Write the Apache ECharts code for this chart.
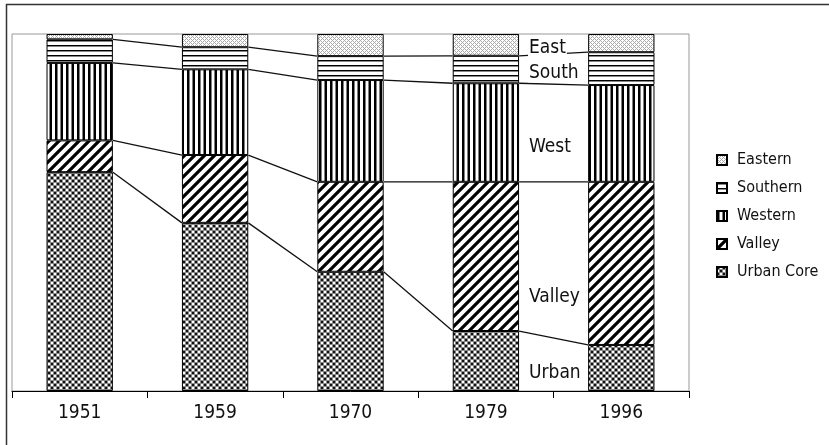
<!DOCTYPE html>
<html lang="en">
<head>
<meta charset="UTF-8">
<title>Population share by area</title>
<script src="https://cdn.jsdelivr.net/npm/echarts@6/dist/echarts.min.js"></script>
<style>
  html, body { margin: 0; padding: 0; background: #fff; }
  #main { width: 829px; height: 445px; }
</style>
</head>
<body>
<div id="main"></div>
<script>
// share of population (%) per census year, stacked bottom-up
const years = ['1951', '1959', '1970', '1979', '1996'];
const urbanCore = [61.3, 47.1, 33.4, 16.8, 12.9];
const valley = [8.9, 19.0, 25.2, 41.8, 45.7];
const western = [21.7, 24.0, 28.5, 27.6, 27.1];
const southern = [6.6, 6.2, 6.7, 7.7, 9.2];
const eastern = [1.5, 3.7, 6.2, 6.1, 5.1];
const seriesNames = ['Urban Core', 'Valley', 'Western', 'Southern', 'Eastern'];
const areaLabels = ['East', 'South', 'West', 'Valley', 'Urban'];

const FONT = "'Liberation Sans Narrow', 'DejaVu Sans Condensed', 'Arial Narrow', sans-serif";

function makePattern(w, h, draw) {
  const c = document.createElement('canvas');
  c.width = w;
  c.height = h;
  const ctx = c.getContext('2d');
  ctx.fillStyle = '#fff';
  ctx.fillRect(0, 0, w, h);
  draw(ctx);
  return { image: c, repeat: 'repeat' };
}

const patterns = {
  urban: makePattern(6, 6, ctx => {
    ctx.fillStyle = '#8a8a8a';
    ctx.fillRect(0, 0, 6, 6);
    ctx.fillStyle = '#111';
    ctx.fillRect(0, 0, 2, 2);
    ctx.fillRect(3, 3, 2, 2);
    ctx.fillStyle = '#fff';
    ctx.fillRect(3, 0, 2, 2);
    ctx.fillRect(0, 3, 2, 2);
  }),
  valley: makePattern(10, 10, ctx => {
    ctx.strokeStyle = '#000';
    ctx.lineWidth = 3.2;
    ctx.beginPath();
    ctx.moveTo(-2, 12); ctx.lineTo(12, -2);
    ctx.moveTo(-3, 3); ctx.lineTo(3, -3);
    ctx.moveTo(7, 13); ctx.lineTo(13, 7);
    ctx.stroke();
  }),
  western: makePattern(11, 1, ctx => {
    ctx.fillStyle = '#000';
    ctx.fillRect(0, 0, 2.5, 1);
    ctx.fillRect(5.5, 0, 2.5, 1);
  }),
  southern: makePattern(1, 5, ctx => {
    ctx.fillStyle = '#000';
    ctx.fillRect(0, 0, 1, 1);
    ctx.fillStyle = '#888';
    ctx.fillRect(0, 1, 1, 1);
  }),
  eastern: makePattern(4, 4, ctx => {
    ctx.fillStyle = '#aaa';
    [[0, 0], [1, 1], [2, 2], [3, 3], [1, 3], [3, 1]].forEach(p => ctx.fillRect(p[0], p[1], 1, 1));
  })
};

const seriesData = [urbanCore, valley, western, southern, eastern];
const seriesFill = [patterns.urban, patterns.valley, patterns.western, patterns.southern, patterns.eastern];
const BAR_RATIO = 0.49;

// running totals for the connector lines between bars
function topOf(level, i) {
  let s = 0;
  for (let k = 0; k <= level; k++) s += seriesData[k][i];
  return s;
}

const myChart = echarts.init(document.getElementById('main'));

const barSeries = seriesNames.map((name, k) => ({
  name: name,
  type: 'bar',
  stack: 'total',
  barWidth: (BAR_RATIO * 100) + '%',
  data: seriesData[k],
  itemStyle: { color: seriesFill[k], borderColor: '#000', borderWidth: 1 },
  emphasis: { disabled: true },
  z: 2
}));

const connectors = {
  name: 'connectors',
  type: 'custom',
  silent: true,
  z: 3,
  data: years.slice(0, -1).map((y, i) => [i, 0]),
  renderItem: (params, api) => {
    const i = api.value(0);
    const half = api.size([1, 0])[0] * BAR_RATIO / 2;
    const children = [0, 1, 2, 3].map(k => {
      const a = api.coord([i, topOf(k, i)]);
      const b = api.coord([i + 1, topOf(k, i + 1)]);
      return {
        type: 'line',
        shape: { x1: a[0] + half, y1: a[1], x2: b[0] - half, y2: b[1] },
        style: { stroke: '#111', lineWidth: 1.3 }
      };
    });
    return { type: 'group', children: children };
  }
};

// area names written in the gap between the last two bars
const labelY = [48, 73, 147, 297, 373];
const labelGraphics = areaLabels.map((t, i) => ({
  type: 'text',
  x: 528,
  y: labelY[i],
  z: 10,
  style: {
    text: t,
    font: '19px ' + FONT,
    fill: '#111',
    verticalAlign: 'middle',
    backgroundColor: '#fff',
    padding: [0, 1]
  }
}));

const option = {
  animation: false,
  backgroundColor: '#fff',
  grid: {
    left: 12, right: 140, top: 34, bottom: 54,
    show: true, borderColor: '#999', borderWidth: 1, backgroundColor: 'transparent'
  },
  legend: {
    orient: 'vertical',
    left: 716,
    top: 151,
    padding: 0,
    data: seriesNames.slice().reverse(),
    icon: 'rect',
    itemWidth: 10,
    itemHeight: 10,
    itemGap: 10,
    selectedMode: false,
    textStyle: { fontFamily: FONT, fontSize: 16, color: '#111', lineHeight: 18, padding: [0, 0, 0, 5] }
  },
  xAxis: {
    type: 'category',
    data: years,
    axisLine: { lineStyle: { color: '#000', width: 1 } },
    axisTick: { show: true, length: 7, lineStyle: { color: '#000' } },
    axisLabel: { fontFamily: FONT, fontSize: 19, color: '#111', margin: 13 }
  },
  yAxis: {
    type: 'value',
    min: 0,
    max: 100,
    show: false,
    splitLine: { show: false }
  },
  graphic: [
    {
      type: 'rect',
      shape: { x: 6.5, y: 4.5, width: 840, height: 460 },
      style: { fill: 'none', stroke: '#333', lineWidth: 1.5 },
      z: 0
    }
  ].concat(labelGraphics),
  series: barSeries.concat([connectors])
};

myChart.setOption(option);
</script>
</body>
</html>
